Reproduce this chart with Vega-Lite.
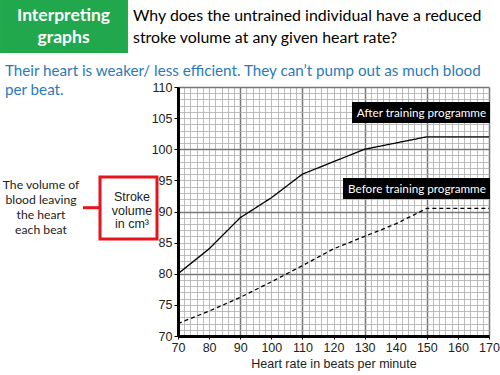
{
  "$schema": "https://vega.github.io/schema/vega-lite/v6.json",
  "width": 311,
  "height": 249,
  "autosize": {"type": "none"},
  "padding": {"left": 178, "top": 87, "right": 11, "bottom": 39},
  "background": "white",
  "config": {"view": {"stroke": null}},
  "datasets": {
    "curves": [
      {"hr": 70, "sv": 80, "series": "After training programme"},
      {"hr": 80, "sv": 84, "series": "After training programme"},
      {"hr": 90, "sv": 89, "series": "After training programme"},
      {"hr": 100, "sv": 92.2, "series": "After training programme"},
      {"hr": 110, "sv": 96, "series": "After training programme"},
      {"hr": 120, "sv": 98, "series": "After training programme"},
      {"hr": 130, "sv": 100, "series": "After training programme"},
      {"hr": 140, "sv": 101, "series": "After training programme"},
      {"hr": 150, "sv": 102, "series": "After training programme"},
      {"hr": 170, "sv": 102, "series": "After training programme"},
      {"hr": 70, "sv": 72, "series": "Before training programme"},
      {"hr": 80, "sv": 74, "series": "Before training programme"},
      {"hr": 90, "sv": 76.2, "series": "Before training programme"},
      {"hr": 100, "sv": 78.7, "series": "Before training programme"},
      {"hr": 110, "sv": 81.3, "series": "Before training programme"},
      {"hr": 120, "sv": 84, "series": "Before training programme"},
      {"hr": 130, "sv": 86, "series": "Before training programme"},
      {"hr": 140, "sv": 88, "series": "Before training programme"},
      {"hr": 150, "sv": 90.5, "series": "Before training programme"},
      {"hr": 170, "sv": 90.5, "series": "Before training programme"}
    ],
    "greenBox": [{"hr": 12.77, "hr2": 53.92, "sv": 123.98, "sv2": 115.46}],
    "greenText": [
      {"hr": 33.2, "sv": 121.45, "label": "Interpreting"},
      {"hr": 33.2, "sv": 117.85, "label": "graphs"}
    ],
    "question": [
      {"hr": 55.53, "sv": 121.33, "label": "Why does the untrained individual have a reduced"},
      {"hr": 55.53, "sv": 117.95, "label": "stroke volume at any given heart rate?"}
    ],
    "answer": [
      {"hr": 14.37, "sv": 112.57, "label": "Their heart is weaker/ less efficient. They can’t pump out as much blood"},
      {"hr": 14.37, "sv": 109.44, "label": "per beat."}
    ],
    "leftNote": [
      {"hr": 25.95, "sv": 94.26, "label": "The volume of"},
      {"hr": 25.95, "sv": 91.85, "label": "blood leaving"},
      {"hr": 25.95, "sv": 89.44, "label": "the heart"},
      {"hr": 25.95, "sv": 87.03, "label": "each beat"}
    ],
    "redBox": [{"hr": 44.92, "hr2": 63.25, "sv": 95.54, "sv2": 85.58}],
    "redLink": [{"hr": 39.45, "hr2": 44.92, "sv": 90.61}],
    "svText": [
      {"hr": 55.21, "sv": 92.33, "label": "Stroke"},
      {"hr": 55.21, "sv": 90.12, "label": "volume"},
      {"hr": 55.21, "sv": 87.95, "label": "in cm³"}
    ],
    "labelBoxes": [
      {"hr": 125.95, "hr2": 170.32, "sv": 107.59, "sv2": 104.22, "label": "After training programme", "mid": 148.3, "midsv": 105.9},
      {"hr": 123.05, "hr2": 170.32, "sv": 95.38, "sv2": 92.01, "label": "Before training programme", "mid": 146.85, "midsv": 93.69}
    ]
  },
  "layer": [
    {
      "data": {"name": "curves"},
      "mark": {"type": "line", "color": "black", "strokeWidth": 1.3},
      "encoding": {
        "x": {
          "field": "hr", "type": "quantitative",
          "scale": {"domain": [70, 170], "nice": false, "zero": false},
          "axis": {
            "title": "Heart rate in beats per minute",
            "titleFont": "Liberation Sans", "titleFontSize": 12.5, "titleFontWeight": "normal", "titleColor": "#222",
            "titlePadding": 4,
            "tickCount": 200,
            "format": "d",
            "values": [70,72,74,76,78,80,82,84,86,88,90,92,94,96,98,100,102,104,106,108,110,112,114,116,118,120,122,124,126,128,130,132,134,136,138,140,142,144,146,148,150,152,154,156,158,160,162,164,166,168,170],
            "labelExpr": "datum.value % 10 === 0 ? datum.label : ''",
            "labelFont": "Liberation Sans", "labelFontSize": 12.5, "labelColor": "#222",
            "labelPadding": 2, "labelOverlap": false, "labelFlush": false,
            "tickSize": 3, "tickColor": "black",
            "tickOpacity": {"condition": {"test": "datum.value % 10 === 0", "value": 1}, "value": 0},
            "domainColor": "black", "domainWidth": 3,
            "grid": true,
            "gridColor": {"condition": {"test": "(datum.value - 70) % 20 === 0", "value": "#777777"}, "value": "#adadad"},
            "gridWidth": {"condition": {"test": "(datum.value - 70) % 20 === 0", "value": 1.5}, "value": 0.8}
          }
        },
        "y": {
          "field": "sv", "type": "quantitative",
          "scale": {"domain": [70, 110], "nice": false, "zero": false},
          "axis": {
            "title": null,
            "tickCount": 200,
            "format": "d",
            "values": [70,71,72,73,74,75,76,77,78,79,80,81,82,83,84,85,86,87,88,89,90,91,92,93,94,95,96,97,98,99,100,101,102,103,104,105,106,107,108,109,110],
            "labelExpr": "datum.value % 5 === 0 ? datum.label : ''",
            "labelFont": "Liberation Sans", "labelFontSize": 12.5, "labelColor": "#222",
            "labelPadding": 2, "labelOverlap": false, "labelFlush": false,
            "tickSize": 4, "tickColor": "black",
            "tickOpacity": {"condition": {"test": "datum.value % 5 === 0", "value": 1}, "value": 0},
            "domainColor": "black", "domainWidth": 3,
            "grid": true,
            "gridColor": {"condition": {"test": "datum.value % 10 === 0", "value": "#777777"}, "value": "#adadad"},
            "gridWidth": {"condition": {"test": "datum.value % 10 === 0", "value": 1.5}, "value": 0.8}
          }
        },
        "strokeDash": {
          "field": "series", "type": "nominal",
          "scale": {"domain": ["After training programme", "Before training programme"], "range": [[1, 0], [4, 3]]},
          "legend": null
        }
      }
    },
    {
      "data": {"name": "labelBoxes"},
      "mark": {"type": "rect", "fill": "black"},
      "encoding": {
        "x": {"field": "hr", "type": "quantitative"},
        "x2": {"field": "hr2"},
        "y": {"field": "sv", "type": "quantitative"},
        "y2": {"field": "sv2"}
      }
    },
    {
      "data": {"name": "labelBoxes"},
      "mark": {"type": "text", "color": "white", "font": "Lato", "fontSize": 11.7, "align": "center", "baseline": "middle"},
      "encoding": {
        "x": {"field": "mid", "type": "quantitative"},
        "y": {"field": "midsv", "type": "quantitative"},
        "text": {"field": "label"}
      }
    },
    {
      "data": {"name": "greenBox"},
      "mark": {"type": "rect", "fill": "#21a84d"},
      "encoding": {
        "x": {"field": "hr", "type": "quantitative"},
        "x2": {"field": "hr2"},
        "y": {"field": "sv", "type": "quantitative"},
        "y2": {"field": "sv2"}
      }
    },
    {
      "data": {"name": "greenText"},
      "mark": {"type": "text", "color": "white", "font": "Lato", "fontWeight": "bold", "fontSize": 17.5, "align": "center", "baseline": "middle"},
      "encoding": {
        "x": {"field": "hr", "type": "quantitative"},
        "y": {"field": "sv", "type": "quantitative"},
        "text": {"field": "label"}
      }
    },
    {
      "data": {"name": "question"},
      "mark": {"type": "text", "color": "black", "font": "Lato", "fontSize": 15.9, "align": "left", "baseline": "middle"},
      "encoding": {
        "x": {"field": "hr", "type": "quantitative"},
        "y": {"field": "sv", "type": "quantitative"},
        "text": {"field": "label"}
      }
    },
    {
      "data": {"name": "answer"},
      "mark": {"type": "text", "color": "#2a7ab9", "font": "Lato", "fontSize": 15.2, "align": "left", "baseline": "middle"},
      "encoding": {
        "x": {"field": "hr", "type": "quantitative"},
        "y": {"field": "sv", "type": "quantitative"},
        "text": {"field": "label"}
      }
    },
    {
      "data": {"name": "leftNote"},
      "mark": {"type": "text", "color": "#222", "font": "Lato", "fontSize": 12.2, "align": "center", "baseline": "middle"},
      "encoding": {
        "x": {"field": "hr", "type": "quantitative"},
        "y": {"field": "sv", "type": "quantitative"},
        "text": {"field": "label"}
      }
    },
    {
      "data": {"name": "redBox"},
      "mark": {"type": "rect", "fill": "white", "stroke": "#e8141a", "strokeWidth": 3},
      "encoding": {
        "x": {"field": "hr", "type": "quantitative"},
        "x2": {"field": "hr2"},
        "y": {"field": "sv", "type": "quantitative"},
        "y2": {"field": "sv2"}
      }
    },
    {
      "data": {"name": "redLink"},
      "mark": {"type": "rule", "color": "#e8141a", "strokeWidth": 3},
      "encoding": {
        "x": {"field": "hr", "type": "quantitative"},
        "x2": {"field": "hr2"},
        "y": {"field": "sv", "type": "quantitative"}
      }
    },
    {
      "data": {"name": "svText"},
      "mark": {"type": "text", "color": "#222", "font": "Liberation Sans", "fontSize": 12.5, "align": "center", "baseline": "middle"},
      "encoding": {
        "x": {"field": "hr", "type": "quantitative"},
        "y": {"field": "sv", "type": "quantitative"},
        "text": {"field": "label"}
      }
    }
  ]
}
